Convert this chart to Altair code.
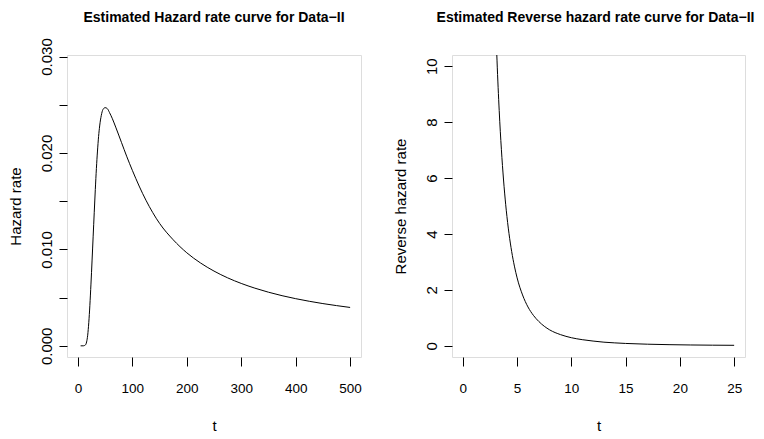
import altair as alt
import pandas as pd

# Hazard rate curve (Data-II)
haz_t = [5, 10, 14, 16, 18, 20, 22, 24, 26, 28, 30, 32, 34, 36, 38, 40, 43, 46, 50,
         54, 58, 63, 70, 80, 90, 100, 125, 150, 175, 200, 225, 250, 275, 300,
         325, 350, 375, 400, 425, 450, 475, 500]
haz_v = [0.0000, 0.0000, 0.0001, 0.0004, 0.0011, 0.0024, 0.0042, 0.0064, 0.0088,
         0.0113, 0.0138, 0.0162, 0.0184, 0.0202, 0.0217, 0.0228, 0.0239, 0.0245,
         0.0247, 0.0246, 0.0242, 0.0236, 0.0226, 0.0211, 0.0196, 0.0182, 0.0151,
         0.0127, 0.0110, 0.00965, 0.0086, 0.00775, 0.00705, 0.00647, 0.00598,
         0.00556, 0.0052, 0.00489, 0.00462, 0.00438, 0.00417, 0.00398]

# Reverse hazard rate curve (Data-II)
rev_t = [3.0, 3.2, 3.4, 3.6, 3.8, 4.0, 4.25, 4.5, 4.75, 5.0, 5.5, 6.0, 6.5, 7.0,
         7.5, 8.0, 9.0, 10, 11, 12, 13, 14, 15, 17, 19, 21, 23, 25]
rev_v = [11.8, 9.7, 8.03, 6.73, 5.69, 4.85, 4.02, 3.37, 2.85, 2.43, 1.82, 1.39,
         1.09, 0.87, 0.70, 0.57, 0.40, 0.29, 0.22, 0.17, 0.13, 0.105, 0.085,
         0.058, 0.041, 0.030, 0.023, 0.018]

haz_xticks = [0, 100, 200, 300, 400, 500]
haz_yticks = [0.0, 0.005, 0.010, 0.015, 0.020, 0.025, 0.030]
rev_xticks = [0, 5, 10, 15, 20, 25]
rev_yticks = [0, 2, 4, 6, 8, 10]

titles = ["Estimated Hazard rate curve for Data\u2212II",
          "Estimated Reverse hazard rate curve for Data\u2212II"]

F = "Liberation Sans, Arial, Helvetica"
W1, W2, H = 294, 293, 302


def xaxis(vals):
    return alt.Axis(values=vals, title="t", grid=False, domain=False,
                    tickColor="black", tickSize=9, tickWidth=1,
                    labelFont=F, labelFontSize=13.5, labelColor="black",
                    labelBaseline="alphabetic", labelPadding=26.6,
                    labelFlush=False, labelOverlap=False,
                    titleFont=F, titleFontSize=15, titleFontWeight="normal",
                    titleColor="black", titleBaseline="alphabetic", titleY=73.3)


def yaxis(vals, title, expr):
    return alt.Axis(values=vals, title=title, grid=False, domain=False,
                    tickColor="black", tickSize=8, tickWidth=1,
                    labelFont=F, labelFontSize=15, labelColor="black",
                    labelAngle=270, labelAlign="center",
                    labelBaseline="alphabetic", labelPadding=7.4,
                    labelFlush=False, labelOverlap=False, labelExpr=expr,
                    titleFont=F, titleFontSize=15, titleFontWeight="normal",
                    titleColor="black", titleAngle=270, titleAlign="center",
                    titleBaseline="alphabetic", titleX=-46.2, titleY=H / 2)


def title_layer(text, xpos):
    return alt.Chart(pd.DataFrame({"label": [text]})).mark_text(
        font=F, fontSize=14.0, fontWeight="bold", color="black",
        align="center", baseline="alphabetic", clip=False
    ).encode(x=alt.value(xpos), y=alt.value(-33.3), text="label:N")


left_line = alt.Chart(pd.DataFrame({"t": haz_t, "h": haz_v})).mark_line(
    color="black", strokeWidth=1, clip=True, interpolate="monotone"
).encode(
    x=alt.X("t:Q", scale=alt.Scale(domain=[-20, 520], nice=False, zero=False),
            axis=xaxis(haz_xticks)),
    y=alt.Y("h:Q", scale=alt.Scale(domain=[-0.00116, 0.03016], nice=False, zero=False),
            axis=yaxis(haz_yticks, "Hazard rate",
                       "round(datum.value*1000) % 10 == 0 ? format(datum.value, '.3f') : ''")),
)
left = alt.layer(left_line, title_layer(titles[0], W1 / 2)).properties(width=W1, height=H)

right_line = alt.Chart(pd.DataFrame({"t": rev_t, "r": rev_v})).mark_line(
    color="black", strokeWidth=1, clip=True, interpolate="monotone"
).encode(
    x=alt.X("t:Q", scale=alt.Scale(domain=[-1, 26], nice=False, zero=False),
            axis=xaxis(rev_xticks)),
    y=alt.Y("r:Q", scale=alt.Scale(domain=[-0.4, 10.4], nice=False, zero=False),
            axis=yaxis(rev_yticks, "Reverse hazard rate", "format(datum.value, 'd')")),
)
right = alt.layer(right_line, title_layer(titles[1], W2 / 2 - 3)).properties(width=W2, height=H)

chart = alt.hconcat(left, right, spacing=31).properties(
    padding={"left": 0, "top": 2, "right": 0, "bottom": 0}
).configure_view(stroke="black", strokeWidth=1).configure(background="white")

chart.save("out.html", embed_options={"renderer": "svg", "actions": False})
